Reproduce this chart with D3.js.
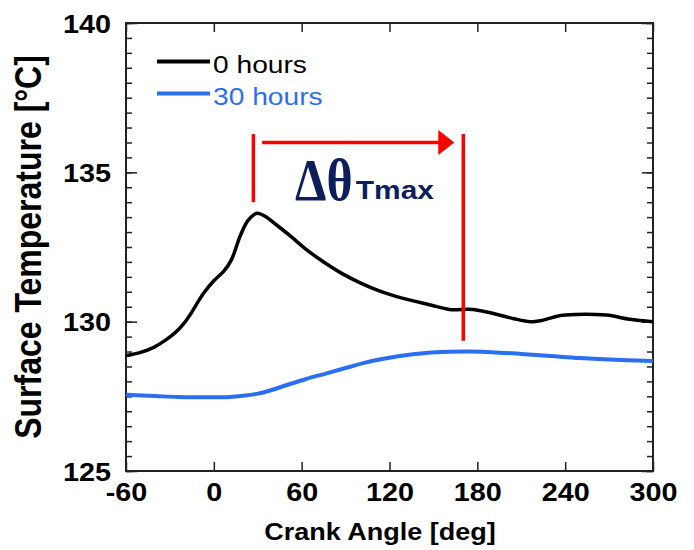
<!DOCTYPE html>
<html>
<head>
<meta charset="utf-8">
<script src="https://cdn.jsdelivr.net/npm/d3@7"></script>
<style>
  body { margin: 0; background: #fff; }
  svg { display: block; font-family: "Liberation Sans", Arial, sans-serif; }
</style>
</head>
<body>
<svg id="chart" width="694" height="550"></svg>
<script>
// crank angle [deg] and surface temperature [°C]
var angle0 = [-60, -50, -41, -33, -26, -20, -16, -7, 0, 7, 12, 18, 23.5, 29.5, 35, 42, 52, 63, 75, 88, 100, 113, 125, 148, 161, 177, 193, 205, 216, 223, 232, 240, 268, 284, 300]
var temp0 = [128.86, 128.97, 129.14, 129.38, 129.65, 129.97, 130.25, 130.95, 131.37, 131.7, 132.07, 132.87, 133.4, 133.63, 133.53, 133.27, 132.88, 132.42, 132.0, 131.6, 131.3, 131.03, 130.84, 130.56, 130.41, 130.41, 130.25, 130.1, 130.0, 130.03, 130.15, 130.22, 130.22, 130.08, 130.0]

var angle30 = [-60, -40, -25, -10, 5, 13, 20, 31, 40, 50, 63, 77, 90, 102, 114, 127, 145, 160, 175, 190, 210, 230, 250, 270, 300]
var temp30 = [127.55, 127.51, 127.48, 127.47, 127.47, 127.49, 127.52, 127.6, 127.72, 127.88, 128.08, 128.27, 128.45, 128.61, 128.74, 128.85, 128.95, 128.99, 129.0, 128.98, 128.92, 128.85, 128.78, 128.73, 128.68]

var xTicks = [-60, 0, 60, 120, 180, 240, 300]
var yTicks = [125, 130, 135, 140]
var legendLabels = ["0 hours", "30 hours"]

// delta theta annotation (angles of the two markers)
var markAngles = [27, 170.4]
var markTop = 136.28
var markBottom = [134.0, 129.36]
var arrowTemp = 136.0
var arrowFrom = 33

var black = "#000"
var blue = "#2a6ff0"
var red = "#ff0000"
var navy = "#0c1e5b"
var sx = 1.15   // text in the figure is stretched horizontally

var svg = d3.select("#chart")
var x = d3.scaleLinear().domain([-60, 300]).range([126, 653])
var y = d3.scaleLinear().domain([125, 140]).range([471, 23])

var minor = d3.range(125, 140.001, 0.5)

// minor y ticks, both sides
svg.append("g").attr("transform", "translate(" + x.range()[0] + ",0)")
  .call(d3.axisLeft(y).tickValues(minor).tickSize(-6).tickFormat(""))
svg.append("g").attr("transform", "translate(" + x.range()[1] + ",0)")
  .call(d3.axisRight(y).tickValues(minor).tickSize(-6).tickFormat(""))
// major y ticks
var yl = svg.append("g").attr("transform", "translate(" + x.range()[0] + ",0)")
  .call(d3.axisLeft(y).tickValues(yTicks).tickSize(-11).tickFormat(d => String(d)))
svg.append("g").attr("transform", "translate(" + x.range()[1] + ",0)")
  .call(d3.axisRight(y).tickValues(yTicks).tickSize(-11).tickFormat(""))
// x ticks bottom and top
var xl = svg.append("g").attr("transform", "translate(0," + y.range()[0] + ")")
  .call(d3.axisBottom(x).tickValues(xTicks).tickSize(-9).tickFormat(d => String(d)))
svg.append("g").attr("transform", "translate(0," + y.range()[1] + ")")
  .call(d3.axisTop(x).tickValues(xTicks).tickSize(-9).tickFormat(""))

svg.selectAll(".domain").remove()
svg.selectAll(".tick line").attr("stroke", "#222").attr("stroke-width", 1.5)

yl.selectAll(".tick text")
  .attr("x", 0).attr("dy", null)
  .attr("transform", "translate(-15,9) scale(" + sx + ",1)")
  .attr("font-size", 25).attr("font-weight", "bold").attr("fill", "#000")
  .attr("font-family", "Liberation Sans, Arial, sans-serif")
xl.selectAll(".tick text")
  .attr("y", 0).attr("dy", null)
  .attr("transform", "translate(0,30) scale(" + sx + ",1)")
  .attr("font-size", 25).attr("font-weight", "bold").attr("fill", "#000")
  .attr("font-family", "Liberation Sans, Arial, sans-serif")

// frame
svg.append("rect")
  .attr("x", x.range()[0]).attr("y", y.range()[1])
  .attr("width", x.range()[1] - x.range()[0]).attr("height", y.range()[0] - y.range()[1])
  .attr("fill", "none").attr("stroke", "#222").attr("stroke-width", 2)

// axis titles
svg.append("text")
  .attr("transform", "translate(380,540) scale(" + sx + ",1)")
  .attr("text-anchor", "middle").attr("font-size", 23.5).attr("font-weight", "bold")
  .text("Crank Angle [deg]")
svg.append("text")
  .attr("transform", "translate(41,247) rotate(-90) scale(1," + sx + ")")
  .attr("text-anchor", "middle").attr("font-size", 32).attr("font-weight", "bold")
  .text("Surface Temperature [°C]")

// curves
var line = d3.line().x(d => x(d[0])).y(d => y(d[1])).curve(d3.curveCatmullRom.alpha(0.5))
svg.append("path").datum(d3.zip(angle30, temp30))
  .attr("d", line).attr("fill", "none").attr("stroke", blue).attr("stroke-width", 4)
svg.append("path").datum(d3.zip(angle0, temp0))
  .attr("d", line).attr("fill", "none").attr("stroke", black).attr("stroke-width", 3.5)

// legend
var leg = svg.append("g")
legendLabels.forEach((t, i) => {
  var c = i == 0 ? black : blue
  var ly = 61.5 + i * 32
  leg.append("line").attr("x1", 157).attr("x2", 210).attr("y1", ly).attr("y2", ly)
    .attr("stroke", c).attr("stroke-width", 4)
  leg.append("text")
    .attr("transform", "translate(213," + (ly + 11) + ") scale(" + sx + ",1)")
    .attr("font-size", 24.5).attr("fill", c).text(t)
})

// delta theta markers
markAngles.forEach((a, i) => {
  svg.append("line")
    .attr("x1", x(a)).attr("x2", x(a))
    .attr("y1", y(markTop)).attr("y2", y(markBottom[i]))
    .attr("stroke", red).attr("stroke-width", 3.5)
})
var tipX = x(markAngles[1]) - 9
svg.append("line")
  .attr("x1", x(arrowFrom)).attr("x2", tipX - 12)
  .attr("y1", y(arrowTemp)).attr("y2", y(arrowTemp))
  .attr("stroke", red).attr("stroke-width", 3.5)
svg.append("path")
  .attr("d", "M" + tipX + "," + y(arrowTemp) + "l-16,-12.5v25z")
  .attr("fill", red)

svg.append("text")
  .attr("transform", "translate(" + x(55.5) + "," + y(134.08) + ") scale(0.85,1)")
  .attr("font-family", "Liberation Serif, Times New Roman, serif")
  .attr("font-size", 59).attr("font-weight", "bold").attr("fill", navy)
  .text("Δθ")
svg.append("text")
  .attr("transform", "translate(" + x(97) + "," + y(134.12) + ") scale(" + sx + ",1)")
  .attr("font-size", 26).attr("font-weight", "bold").attr("fill", navy)
  .text("Tmax")
</script>
</body>
</html>
